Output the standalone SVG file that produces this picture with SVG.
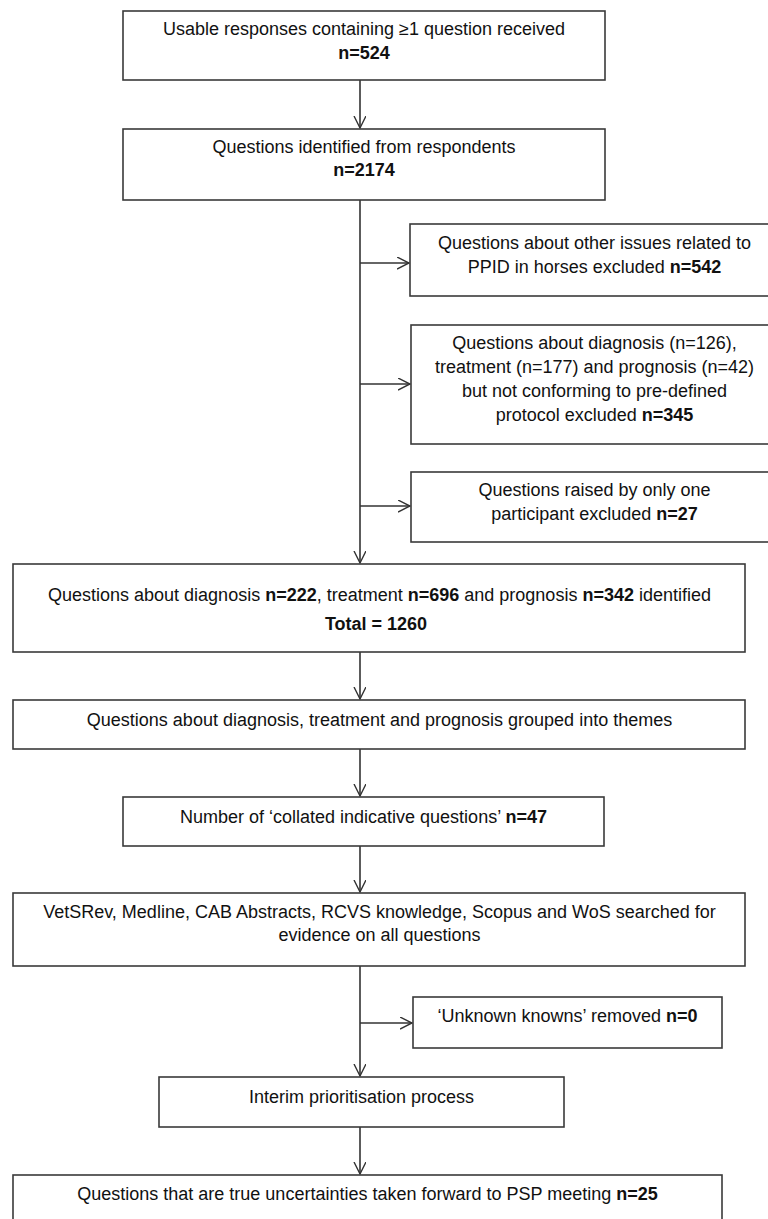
<svg xmlns="http://www.w3.org/2000/svg" width="768" height="1219" viewBox="0 0 768 1219">
<style>
.box{fill:#fff;stroke:#3a3a3a;stroke-width:1.6}
.t{font-family:"Liberation Sans",Arial,sans-serif;font-size:18px;fill:#111;text-anchor:middle}
.b{font-weight:bold}
.c{stroke:#333;stroke-width:1.6;fill:none}
</style>
<defs>
<marker id="ah" markerUnits="userSpaceOnUse" markerWidth="14" markerHeight="14" refX="12" refY="6" orient="auto">
<path d="M0,0 L12,6 L0,12" fill="none" stroke="#333" stroke-width="1.4"/>
</marker>
</defs>
<rect width="768" height="1219" fill="#fff"/>
<g id="connectors">
<line class="c" x1="360" y1="80" x2="360" y2="128" marker-end="url(#ah)"/>
<line class="c" x1="360" y1="200" x2="360" y2="563" marker-end="url(#ah)"/>
<line class="c" x1="360" y1="263" x2="409" y2="263" marker-end="url(#ah)"/>
<line class="c" x1="360" y1="384" x2="410" y2="384" marker-end="url(#ah)"/>
<line class="c" x1="360" y1="506" x2="410" y2="506" marker-end="url(#ah)"/>
<line class="c" x1="360" y1="652" x2="360" y2="699" marker-end="url(#ah)"/>
<line class="c" x1="360" y1="749" x2="360" y2="796" marker-end="url(#ah)"/>
<line class="c" x1="360" y1="846" x2="360" y2="892" marker-end="url(#ah)"/>
<line class="c" x1="360" y1="966" x2="360" y2="1076" marker-end="url(#ah)"/>
<line class="c" x1="360" y1="1023" x2="412" y2="1023" marker-end="url(#ah)"/>
<line class="c" x1="360" y1="1127" x2="360" y2="1174" marker-end="url(#ah)"/>
</g>
<g id="n1">
<rect class="box" x="123" y="11" width="482" height="69"/>
<text class="t" x="364" y="35">Usable responses containing ≥1 question received</text>
<text class="t b" x="364" y="59">n=524</text>
</g>
<g id="n2">
<rect class="box" x="123" y="129" width="482" height="71"/>
<text class="t" x="364" y="153">Questions identified from respondents</text>
<text class="t b" x="364" y="176">n=2174</text>
</g>
<g id="n3">
<rect class="box" x="410" y="224" width="370" height="72"/>
<text class="t" x="594.5" y="249">Questions about other issues related to</text>
<text class="t" x="594.5" y="273">PPID in horses excluded <tspan class="b">n=542</tspan></text>
</g>
<g id="n4">
<rect class="box" x="411" y="325" width="369" height="119"/>
<text class="t" x="594.5" y="349">Questions about diagnosis (n=126),</text>
<text class="t" x="594.5" y="373">treatment (n=177) and prognosis (n=42)</text>
<text class="t" x="594.5" y="397">but not conforming to pre-defined</text>
<text class="t" x="594.5" y="421">protocol excluded <tspan class="b">n=345</tspan></text>
</g>
<g id="n5">
<rect class="box" x="411" y="472" width="369" height="70"/>
<text class="t" x="594.5" y="496">Questions raised by only one</text>
<text class="t" x="594.5" y="520">participant excluded <tspan class="b">n=27</tspan></text>
</g>
<g id="n6">
<rect class="box" x="13" y="564" width="732" height="88"/>
<text class="t" x="379.5" y="601">Questions about diagnosis <tspan class="b">n=222</tspan>, treatment <tspan class="b">n=696</tspan> and prognosis <tspan class="b">n=342</tspan> identified</text>
<text class="t b" x="376" y="630">Total = 1260</text>
</g>
<g id="n7">
<rect class="box" x="13" y="700" width="732" height="49"/>
<text class="t" x="379.5" y="726">Questions about diagnosis, treatment and prognosis grouped into themes</text>
</g>
<g id="n8">
<rect class="box" x="123" y="797" width="481" height="49"/>
<text class="t" x="363.5" y="823">Number of ‘collated indicative questions’ <tspan class="b">n=47</tspan></text>
</g>
<g id="n9">
<rect class="box" x="13" y="893" width="732" height="73"/>
<text class="t" x="379.5" y="918">VetSRev, Medline, CAB Abstracts, RCVS knowledge, Scopus and WoS searched for</text>
<text class="t" x="379.5" y="941">evidence on all questions</text>
</g>
<g id="n10">
<rect class="box" x="413" y="997" width="309" height="51"/>
<text class="t" x="567.5" y="1022">‘Unknown knowns’ removed <tspan class="b">n=0</tspan></text>
</g>
<g id="n11">
<rect class="box" x="159" y="1077" width="405" height="50"/>
<text class="t" x="361.5" y="1103">Interim prioritisation process</text>
</g>
<g id="n12">
<rect class="box" x="13" y="1175" width="709" height="60"/>
<text class="t" x="367.5" y="1200">Questions that are true uncertainties taken forward to PSP meeting <tspan class="b">n=25</tspan></text>
</g>
</svg>
